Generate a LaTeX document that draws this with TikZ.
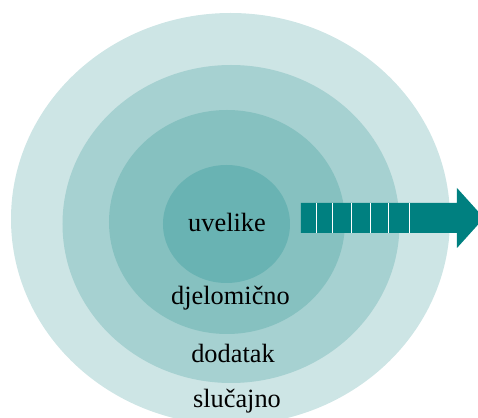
\documentclass[tikz,border=0pt]{standalone}
\usepackage{fontspec}
\setmainfont{Liberation Serif}

\definecolor{ringout}{HTML}{CDE5E5}
\definecolor{ringtwo}{HTML}{A6D1D1}
\definecolor{ringthree}{HTML}{86C1C0}
\definecolor{ringin}{HTML}{69B3B3}
\definecolor{arrowteal}{HTML}{008080}

\tikzset{
  label/.style={anchor=base, inner sep=0pt, font=\fontsize{15}{18}\selectfont},
  slot/.style={white, line width=0.9pt}
}

\begin{document}
\begin{tikzpicture}[x=0.02cm, y=-0.02cm]

\useasboundingbox (0,0) rectangle (478,418);
\clip (0,0) rectangle (478,418);

% draw rings
\fill[ringout]   (230.5,219) ellipse [x radius=219.5, y radius=206];
\fill[ringtwo]   (231,224) ellipse [x radius=168.5, y radius=159];
\fill[ringthree] (227,222) ellipse [x radius=118, y radius=112];
\fill[ringin]    (226.5,224) ellipse [x radius=63.5, y radius=59];

% draw arrow
\fill[arrowteal] (301,203) coordinate (tail) -- (457,203) -- (457,188) -- (484,218) coordinate (tip)
  -- (457,248) -- (457,233) -- (301,233) -- cycle;
\foreach \x in {316.5,332.3,351.7,370.7,388.3,409.3}
  \draw[slot] (\x,203) -- (\x,233);

% labels
\node[label] (core)  at (227,232)   {uvelike};
\node[label] (part)  at (230.5,305) {djelomično};
\node[label] (extra) at (233,363)   {dodatak};
\node[label] (rand)  at (237,408)   {slučajno};

\end{tikzpicture}
\end{document}
